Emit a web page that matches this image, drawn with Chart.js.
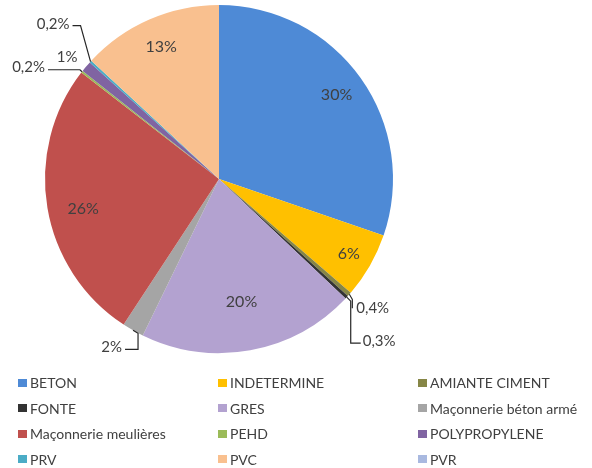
<!DOCTYPE html>
<html lang="fr">
<head>
<meta charset="utf-8">
<title>Répartition par matériau</title>
<script src="https://cdn.jsdelivr.net/npm/chart.js@4/dist/chart.umd.min.js"></script>
<style>
  html, body { margin: 0; padding: 0; background: #fff; }
  #wrap { position: relative; width: 592px; height: 468px; overflow: hidden; }
  #chart { position: absolute; left: 0; top: 0; }
  #legend {
    position: absolute; left: 18px; top: 370px; width: 580px;
    display: grid; grid-template-columns: 200px 200px 180px; grid-auto-rows: 25.5px;
    font-family: Lato, 'Open Sans', sans-serif; font-size: 14px; color: #404040;
  }
  #legend .item { display: flex; align-items: center; white-space: nowrap; }
  #legend .box { width: 9px; height: 8px; margin-right: 3px; flex: none; }
</style>
</head>
<body>
<div id="wrap">
  <canvas id="chart" width="592" height="468"></canvas>
  <div id="legend"></div>
</div>
<script>
/* ── Data ─────────────────────────────────────────────────── */
const categories = [
  'BETON', 'INDETERMINE', 'AMIANTE CIMENT', 'FONTE', 'GRES',
  'Maçonnerie béton armé', 'Maçonnerie meulières', 'PEHD',
  'POLYPROPYLENE', 'PRV', 'PVC', 'PVR'
];
const shares = [30, 6, 0.4, 0.3, 20, 2, 26, 0.2, 1, 0.2, 13, 0];
const colors = [
  '#4e8ad6', '#ffc000', '#868646', '#333333', '#b3a2d0',
  '#a5a5a5', '#c0504d', '#9bbb59', '#8064a2', '#4bacc6', '#f9c08f', '#a9b9e0'
];

function fmtPct(v) {
  return (v < 1 ? v.toFixed(1).replace('.', ',') : Math.round(v)) + '%';
}

/* ── Slice labels plugin ──────────────────────────────────── */
const sliceLabels = {
  id: 'sliceLabels',
  afterDatasetsDraw(chart, args, opts) {
    const ctx = chart.ctx;
    const meta = chart.getDatasetMeta(0);
    ctx.save();
    ctx.fillStyle = opts.color;
    ctx.strokeStyle = opts.lineColor;
    ctx.lineWidth = 1.2;
    ctx.textBaseline = 'middle';
    meta.data.forEach((arc, i) => {
      const cfg = opts.items[i];
      const v = chart.data.datasets[0].data[i];
      if (!cfg || !v) return;
      const p = arc.getProps(['x', 'y', 'startAngle', 'endAngle', 'outerRadius'], true);
      const mid = (p.startAngle + p.endAngle) / 2;
      const text = fmtPct(v);
      if (cfg.r) {
        const r = p.outerRadius * cfg.r;
        const a = mid + (cfg.a || 0) * Math.PI / 180;
        ctx.font = opts.font;
        ctx.textAlign = 'center';
        ctx.fillText(text, p.x + r * Math.cos(a), p.y + r * Math.sin(a));
        return;
      }
      const ex = p.x + p.outerRadius * Math.cos(mid);
      const ey = p.y + p.outerRadius * Math.sin(mid);
      if (cfg.leader) {
        ctx.beginPath();
        cfg.leader.forEach(([lx, ly], k) => {
          k ? ctx.lineTo(ex + lx, ey + ly) : ctx.moveTo(ex + lx, ey + ly);
        });
        ctx.stroke();
      }
      ctx.font = opts.smallFont;
      ctx.textAlign = cfg.align || 'left';
      ctx.fillText(text, ex + cfg.dx, ey + cfg.dy);
    });
    ctx.restore();
  }
};

/* ── Chart ────────────────────────────────────────────────── */
const chart = new Chart(document.getElementById('chart'), {
  type: 'pie',
  data: {
    labels: categories,
    datasets: [{
      data: shares,
      backgroundColor: colors,
      borderWidth: 0
    }]
  },
  options: {
    responsive: false,
    animation: false,
    layout: { padding: { left: 45, right: 199, top: 5, bottom: 115 } },
    plugins: {
      legend: { display: false },
      tooltip: { enabled: false },
      sliceLabels: {
        font: '16px Lato, "Open Sans", sans-serif',
        smallFont: '15px Lato, "Open Sans", sans-serif',
        color: '#404040',
        lineColor: '#262626',
        items: [
          { r: 0.83 },
          { r: 0.86 },
          { dx: 7, dy: 14, leader: [[0, 0], [3, 5], [3, 14]] },
          { dx: 16, dy: 44, leader: [[0, 0], [4, 4], [4, 46], [14, 46]] },
          { r: 0.72 },
          { dx: -11, dy: 17, align: 'right', leader: [[0, 0], [5, 3], [5, 19], [-8, 19]] },
          { r: 0.8, a: -3 },
          { dx: -37, dy: -5, align: 'right', leader: [[0, 0], [-2, -2], [-34, -2]] },
          { dx: -19, dy: -9, align: 'center' },
          { dx: -21, dy: -37, align: 'right', leader: [[0, 0], [-10, -36], [-18, -36]] },
          { r: 0.83 },
          null
        ]
      }
    }
  },
  plugins: [sliceLabels]
});

/* ── HTML legend (3 columns) ──────────────────────────────── */
const legendEl = document.getElementById('legend');
chart.options.plugins.legend.labels.generateLabels(chart).forEach(item => {
  const el = document.createElement('div');
  el.className = 'item';
  el.innerHTML = `<span class="box" style="background:${item.fillStyle}"></span><span></span>`;
  el.lastChild.textContent = item.text;
  legendEl.appendChild(el);
});
</script>
</body>
</html>
